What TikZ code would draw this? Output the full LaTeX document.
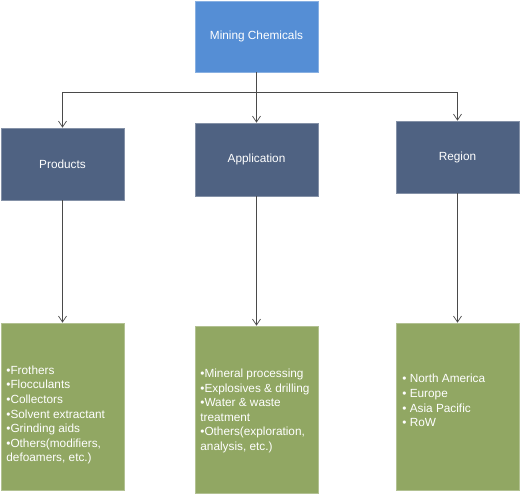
\documentclass[tikz,border=0pt]{standalone}
\usepackage{fontspec}
\setmainfont{Liberation Sans}
\usepackage{xcolor}
\usepackage{tikz}
\usetikzlibrary{arrows.meta, positioning}

\definecolor{rootblue}{HTML}{558ED5}
\definecolor{catblue}{HTML}{4F6282}
\definecolor{listgreen}{HTML}{91A763}
\definecolor{linkgray}{HTML}{4A4A4A}

\begin{document}
\begin{tikzpicture}[
  x=1pt, y=-1pt,
  font=\fontsize{11.8}{14.6}\selectfont,
  box/.style={
    rectangle,
    draw=#1!70!white,
    fill=#1,
    text=white,
    minimum width=123pt,
    inner sep=0pt,
    line width=0.6pt
  },
  box/.default=catblue,
  link/.style={
    -{Straight Barb[length=6pt, width=8pt]},
    draw=linkgray,
    line width=0.7pt
  },
  items/.style={
    text=white,
    align=left,
    inner sep=0pt
  }
]
\useasboundingbox (0,0) rectangle (522,494);

% --- Top node --------------------------------------------------------

\node[box=rootblue, minimum height=71pt] (root) at (256.5,36.5)
{Mining Chemicals};

% --- Segments --------------------------------------------------------

\node[box, minimum height=72pt] (prod) at (62.5,164) {Products};
\node[box, minimum height=73pt] (app) at (256.5,159.5) {Application};
\node[box, minimum height=72pt] (reg) at (457.5,157) {Region};

% --- Lists -----------------------------------------------------------

\node[box=listgreen, minimum height=167pt] (prodbox) at (62.5,406.5) {};
\node[box=listgreen, minimum height=167pt] (appbox) at (256.5,409.5) {};
\node[box=listgreen, minimum height=167pt] (regbox) at (457.5,406.5) {};

\node[items, right=5.5pt of prodbox.west, yshift=-8.5pt] (prodlist)
{•Frothers\\•Flocculants\\•Collectors\\•Solvent extractant\\•Grinding aids\\
 •Others(modifiers,\\defoamers, etc.)};

\node[items, right=5.5pt of appbox.west, yshift=-1.5pt] (applist)
{•Mineral processing\\•Explosives \& drilling\\•Water \& waste\\treatment\\
 •Others(exploration,\\analysis, etc.)};

\node[items, right=6.5pt of regbox.west, yshift=6pt] (reglist)
{• North America\\• Europe\\• Asia Pacific\\• RoW};

% --- Flows -----------------------------------------------------------

\coordinate (split) at (256.5,92);

\draw[link] (root) -- (app);
\draw[link] (split) -| (prod);
\draw[link] (split) -| (reg);

\draw[link] (prod) -- (prodbox);
\draw[link] (app) -- (appbox);
\draw[link] (reg) -- (regbox);

\end{tikzpicture}
\end{document}
